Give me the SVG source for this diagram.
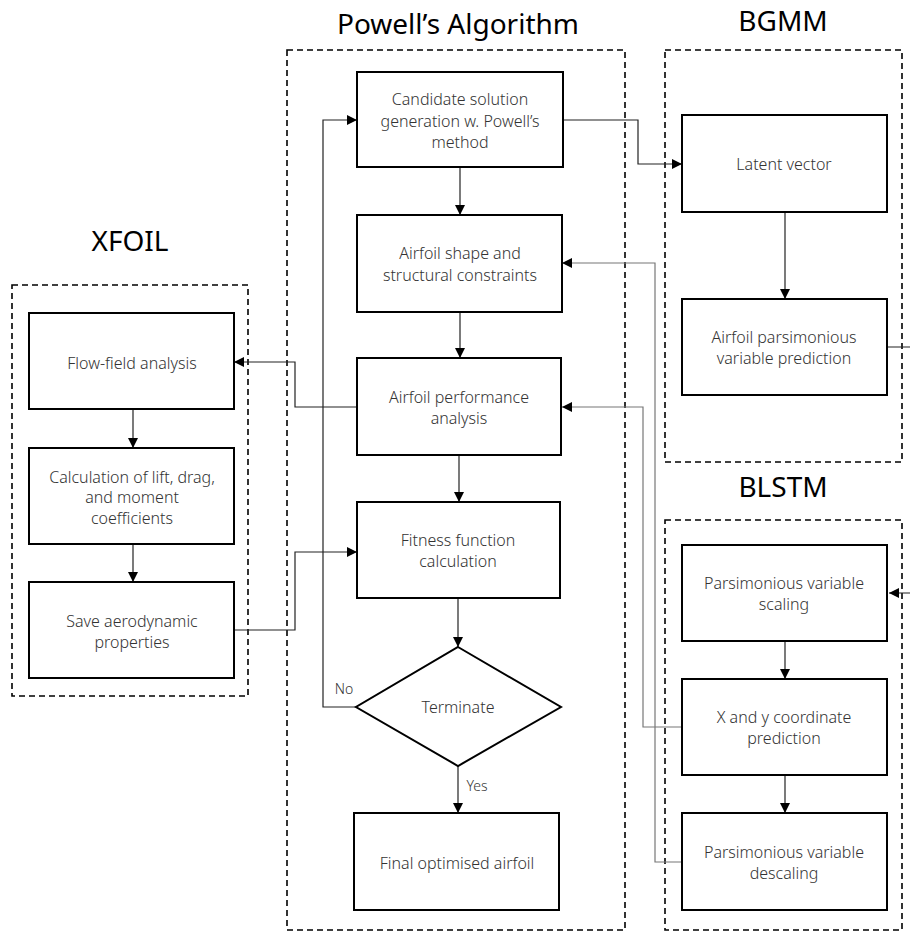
<svg xmlns="http://www.w3.org/2000/svg" width="910" height="934" viewBox="0 0 910 934">
<style>
.title{font-family:"Noto Sans","Open Sans",sans-serif;font-size:28px;fill:#000;text-anchor:middle}
.box{fill:#fff;stroke:#000;stroke-width:2}
.group{fill:none;stroke:#000;stroke-width:1.6;stroke-dasharray:6 4}
.t{font-family:"Noto Sans","Open Sans",sans-serif;font-size:16px;font-weight:300;fill:#333;text-anchor:middle;dominant-baseline:central}
.c{fill:none;stroke:#222;stroke-width:1.2}
.g{fill:none;stroke:#777;stroke-width:1.2}
</style>
<defs>
<marker id="ah" viewBox="0 0 10 10" refX="10" refY="5" markerWidth="10" markerHeight="10" markerUnits="userSpaceOnUse" orient="auto">
<path d="M0,0 L10,5 L0,10 z" fill="#000"/>
</marker>
</defs>
<rect width="910" height="934" fill="#fff"/>

<g id="containers">
<rect class="group" x="287" y="50" width="338" height="880"/>
<rect class="group" x="665" y="50" width="237" height="412"/>
<rect class="group" x="665" y="520" width="237" height="410"/>
<rect class="group" x="12" y="285" width="236" height="411"/>
<text class="title" x="458" y="34">Powell’s Algorithm</text>
<text class="title" x="783" y="31">BGMM</text>
<text class="title" x="783" y="497">BLSTM</text>
<text class="title" x="130" y="251">XFOIL</text>
</g>

<g id="connectors">
<path class="c" d="M460,167 V215" marker-end="url(#ah)"/>
<path class="c" d="M460,312 V358" marker-end="url(#ah)"/>
<path class="c" d="M459,455 V502" marker-end="url(#ah)"/>
<path class="c" d="M458,598 V647" marker-end="url(#ah)"/>
<path class="c" d="M458,766 V813" marker-end="url(#ah)"/>
<path class="c" d="M356,707 H323 V120 H357" marker-end="url(#ah)"/>
<path class="c" d="M563,120 H638 V164 H682" marker-end="url(#ah)"/>
<path class="c" d="M785,212 V299" marker-end="url(#ah)"/>
<path class="c" d="M887,347 H911 V593 H889" marker-end="url(#ah)"/>
<path class="c" d="M785,641 V679" marker-end="url(#ah)"/>
<path class="c" d="M785,775 V813" marker-end="url(#ah)"/>
<path class="g" d="M682,727 H643 V407 H562" marker-end="url(#ah)"/>
<path class="g" d="M682,862 H655 V263 H562" marker-end="url(#ah)"/>
<path class="c" d="M357,407 H295 V362 H234" marker-end="url(#ah)"/>
<path class="c" d="M234,630 H295 V552 H357" marker-end="url(#ah)"/>
<path class="c" d="M133,409 V448" marker-end="url(#ah)"/>
<path class="c" d="M133,544 V582" marker-end="url(#ah)"/>
<text class="t" x="344" y="688" style="font-size:14px">No</text>
<text class="t" x="477" y="785" style="font-size:14px">Yes</text>
</g>

<g id="candidate">
<rect class="box" x="357" y="72" width="206" height="95"/>
<text class="t" x="460" y="99">Candidate solution</text>
<text class="t" x="460" y="121">generation w. Powell’s</text>
<text class="t" x="460" y="142">method</text>
</g>
<g id="shape">
<rect class="box" x="357" y="215" width="205" height="97"/>
<text class="t" x="460" y="253">Airfoil shape and</text>
<text class="t" x="460" y="275">structural constraints</text>
</g>
<g id="performance">
<rect class="box" x="357" y="358" width="204" height="97"/>
<text class="t" x="459" y="397">Airfoil performance</text>
<text class="t" x="459" y="418">analysis</text>
</g>
<g id="fitness">
<rect class="box" x="357" y="502" width="203" height="96"/>
<text class="t" x="458" y="540">Fitness function</text>
<text class="t" x="458" y="561">calculation</text>
</g>
<g id="terminate">
<polygon class="box" points="458,647 561,707 458,766 356,707"/>
<text class="t" x="458" y="707">Terminate</text>
</g>
<g id="final">
<rect class="box" x="354" y="813" width="205" height="97"/>
<text class="t" x="457" y="863">Final optimised airfoil</text>
</g>

<g id="latent">
<rect class="box" x="682" y="115" width="205" height="97"/>
<text class="t" x="784" y="164">Latent vector</text>
</g>
<g id="pars-pred">
<rect class="box" x="682" y="299" width="205" height="96"/>
<text class="t" x="784" y="337">Airfoil parsimonious</text>
<text class="t" x="784" y="358">variable prediction</text>
</g>

<g id="scaling">
<rect class="box" x="682" y="545" width="205" height="96"/>
<text class="t" x="784" y="583">Parsimonious variable</text>
<text class="t" x="784" y="604">scaling</text>
</g>
<g id="xy">
<rect class="box" x="682" y="679" width="205" height="96"/>
<text class="t" x="784" y="717">X and y coordinate</text>
<text class="t" x="784" y="738">prediction</text>
</g>
<g id="descaling">
<rect class="box" x="682" y="813" width="205" height="97"/>
<text class="t" x="784" y="852">Parsimonious variable</text>
<text class="t" x="784" y="873">descaling</text>
</g>

<g id="flowfield">
<rect class="box" x="29" y="313" width="205" height="96"/>
<text class="t" x="132" y="363">Flow-field analysis</text>
</g>
<g id="calc">
<rect class="box" x="29" y="448" width="205" height="96"/>
<text class="t" x="132" y="477">Calculation of lift, drag,</text>
<text class="t" x="132" y="497">and moment</text>
<text class="t" x="132" y="518">coefficients</text>
</g>
<g id="save">
<rect class="box" x="29" y="582" width="205" height="96"/>
<text class="t" x="132" y="621">Save aerodynamic</text>
<text class="t" x="132" y="642">properties</text>
</g>
</svg>
